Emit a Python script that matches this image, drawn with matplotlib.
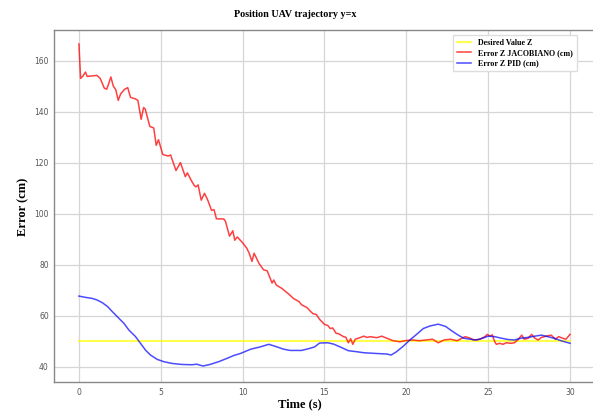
import matplotlib
matplotlib.use("Agg")
import matplotlib.pyplot as plt

# Temps (s) et erreurs
t_jacobiano = [0, 0.1, 0.25, 0.4, 0.5, 0.8, 1.1, 1.3, 1.55, 1.7, 1.82, 1.95, 2.1, 2.25, 2.4, 2.55,
               2.8, 2.98, 3.15, 3.45, 3.6, 3.8, 3.95, 4.05, 4.33, 4.57, 4.72, 4.86, 5.12, 5.45, 5.6,
               5.93, 6.2, 6.5, 6.62, 6.9, 7.05, 7.15, 7.28, 7.47, 7.67, 7.87, 8.1, 8.25, 8.4, 8.85,
               8.95, 9.2, 9.4, 9.52, 9.67, 10.0, 10.25, 10.4, 10.57, 10.7, 11.0, 11.28, 11.5, 11.8,
               11.9, 12.06, 12.4, 12.6, 12.8, 13.1, 13.45, 13.6, 13.93, 14.1, 14.3, 14.5, 14.7, 15.0,
               15.2, 15.35, 15.5, 15.71, 15.85, 16.16, 16.3, 16.46, 16.6, 16.73, 16.88, 17.2, 17.4,
               17.6, 17.78, 18.2, 18.5, 18.8, 19.2, 19.6, 20.0, 20.4, 20.8, 21.2, 21.6, 21.95, 22.3,
               22.7, 23.1, 23.4, 23.6, 23.9, 24.1, 24.5, 24.8, 24.95, 25.1, 25.25, 25.4, 25.5, 25.7,
               25.9, 26.1, 26.4, 26.6, 26.8, 27.05, 27.2, 27.45, 27.65, 27.85, 28.05, 28.25, 28.55,
               28.85, 29.1, 29.3, 29.55, 29.75, 30.0]
err_jacobiano = [166.5, 153, 154, 155.5, 153.8, 154, 154.2, 153, 149.2, 148.8, 151, 153.6, 150, 148.6,
                 144.4, 147, 148.8, 149.4, 145.6, 145, 144.4, 137, 141.6, 141, 134.2, 133.6, 126.8,
                 129, 123.2, 122.6, 123, 116.9, 120, 114.5, 116, 112.6, 111, 110.5, 111.3, 105.3, 108,
                 105.3, 101.3, 101.6, 98, 97.9, 97, 91.2, 93.3, 89.6, 90.9, 88.6, 86.5, 84.5, 81.3,
                 84.5, 80.5, 78, 77.6, 72.8, 74, 72, 70.7, 69.6, 68.6, 66.8, 65.5, 64.3, 63.2, 62,
                 60.8, 60.5, 58.6, 56.6, 56.2, 55, 55.2, 53.1, 53, 51.8, 51.6, 49.4, 51, 48.8, 50.8,
                 51.5, 52, 51.5, 51.8, 51.4, 52, 51.2, 50.2, 49.8, 50.3, 50.5, 50.2, 50.5, 50.8, 49.4,
                 50.5, 50.8, 50.2, 51.2, 51.8, 51.2, 50.5, 50.8, 51.8, 52.7, 52, 52.5, 49.8, 48.8,
                 49.2, 48.8, 49.4, 49.2, 49.4, 50.5, 52.4, 50.8, 51.2, 52.7, 51.2, 50.5, 51.5, 52,
                 52.4, 50.8, 51.8, 51.2, 50.8, 52.7]

t_pid = [0, 0.4, 0.8, 1.1, 1.43, 1.75, 2.04, 2.44, 2.75, 3.05, 3.46, 3.76, 4.07, 4.37, 4.78, 5.18,
         5.7, 6.3, 6.9, 7.2, 7.58, 8.0, 8.54, 9.05, 9.45, 9.86, 10.5, 11.08, 11.6, 12.0, 12.5, 12.9,
         13.6, 14.1, 14.4, 14.7, 15.2, 15.55, 15.95, 16.46, 16.97, 17.4, 18.2, 18.8, 19.07, 19.4,
         19.8, 20.2, 20.7, 21.04, 21.45, 21.95, 22.4, 22.77, 23.17, 23.5, 23.9, 24.3, 24.65, 25.0,
         25.4, 25.8, 26.2, 26.6, 27.0, 27.4, 27.85, 28.25, 28.65, 29.07, 29.45, 30.0]
err_pid = [67.7, 67.2, 66.8, 66.2, 65.1, 63.6, 61.6, 59, 57, 54.4, 51.8, 49.2, 46.5, 44.6, 42.9, 42,
           41.3, 40.9, 40.8, 41, 40.3, 40.9, 42, 43.3, 44.4, 45.2, 46.9, 47.8, 48.8, 48, 46.9, 46.4,
           46.4, 47.2, 47.8, 49.3, 49.4, 48.9, 47.8, 46.3, 45.9, 45.5, 45.2, 45, 44.6, 45.9, 48,
           50.4, 53.1, 55, 56, 56.7, 55.8, 54.1, 52.4, 51.2, 50.8, 50.5, 51.2, 52, 51.8, 51.2, 50.7,
           50.5, 51.2, 51.5, 52, 52.4, 51.8, 51.1, 50.2, 49.2]

t_desired = [0, 30]
z_desired = [50.2, 50.2]

serif = "Liberation Serif"

fig = plt.figure(figsize=(5.93, 4.12), dpi=100)
ax = fig.add_axes([0.0917, 0.072, 0.911, 0.854])

ax.plot(t_desired, z_desired, color="yellow", alpha=0.7, linewidth=1.5, label="Desired Value Z")
ax.plot(t_jacobiano, err_jacobiano, color="red", alpha=0.75, linewidth=1.1, label="Error Z JACOBIANO (cm)")
ax.plot(t_pid, err_pid, color="blue", alpha=0.7, linewidth=1.1, label="Error Z PID (cm)")

ax.set_xlim(-1.5, 31.5)
ax.set_ylim(33.9, 171.8)
ax.set_xticks([0, 5, 10, 15, 20, 25, 30])
ax.set_yticks([40, 60, 80, 100, 120, 140, 160])
ax.tick_params(length=0, labelsize=5.5, labelcolor="#555555", pad=4)
ax.grid(True, color="#d6d6d6", linewidth=0.9)
ax.set_axisbelow(True)
for s in ax.spines.values():
    s.set_color("#888888")
    s.set_linewidth(1.0)

ax.set_title("Position UAV trajectory y=x", family=serif, fontweight="bold", fontsize=7.3, x=0.445, pad=10)
ax.set_xlabel("Time (s)", family=serif, fontweight="bold", fontsize=9)
ax.xaxis.set_label_coords(0.455, -0.045)
ax.set_ylabel("Error (cm)", family=serif, fontweight="bold", fontsize=9)
ax.yaxis.set_label_coords(-0.047, 0.5)

ax.legend(loc="upper right", prop={"family": serif, "weight": "bold", "size": 5.8},
          handlelength=1.8, labelspacing=0.3, borderpad=0.5, framealpha=1,
          edgecolor="#dddddd", fancybox=False, bbox_to_anchor=(0.974, 1.0))

fig.savefig("out.png", dpi=100)
